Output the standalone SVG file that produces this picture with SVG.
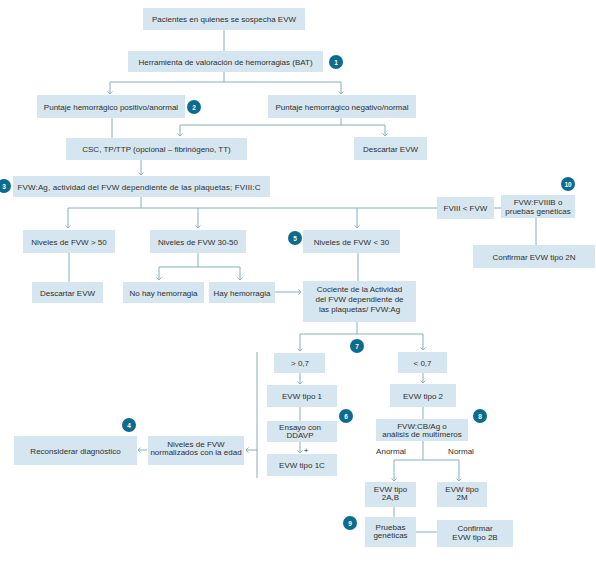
<svg xmlns="http://www.w3.org/2000/svg" width="596" height="562" viewBox="0 0 596 562">
  <style>
    .box rect { fill: #d6e6f0; }
    .box text { font-family: "Liberation Sans", Arial, sans-serif; font-size: 8px; fill: #2e2e2e; text-anchor: middle; }
    .badge circle { fill: #0d6b8c; }
    .badge text { font-family: "Liberation Sans", Arial, sans-serif; font-size: 6.5px; font-weight: bold; fill: #ffffff; text-anchor: middle; }
    .conn path { fill: none; stroke: #86aebd; stroke-width: 1; }
    .conn .arr { marker-end: url(#chev); }
    .lbl { font-family: "Liberation Sans", Arial, sans-serif; font-size: 8px; fill: #2e2e2e; text-anchor: middle; }
  </style>
  <defs>
    <marker id="chev" markerUnits="userSpaceOnUse" markerWidth="8" markerHeight="8" refX="4" refY="4" orient="auto">
      <path d="M1.5,1.5 L4,4 L1.5,6.5" fill="none" stroke="#86aebd" stroke-width="0.9"/>
    </marker>
  </defs>
  <rect width="596" height="562" fill="#ffffff"/>

  <!-- connectors -->
  <g id="connectors" class="conn">
    <path d="M224,30 V51"/>
    <path d="M224,72 V82 M110,82 H341"/>
    <path class="arr" d="M110,82 V94"/>
    <path class="arr" d="M341,82 V94"/>
    <path d="M112,118 V138"/>
    <path d="M341,118 V125 M180,125 H385"/>
    <path class="arr" d="M180,125 V136"/>
    <path class="arr" d="M385,125 V136"/>
    <path class="arr" d="M141,160 V175"/>
    <path d="M141,197 V208 M68,208 H437"/>
    <path class="arr" d="M68,208 V228"/>
    <path class="arr" d="M198,208 V228"/>
    <path class="arr" d="M357,208 V228"/>
    <path d="M494,208 H501"/>
    <path d="M536,218 V245"/>
    <path d="M69,253 V282"/>
    <path d="M198,253 V267 M159,267 H240"/>
    <path class="arr" d="M159,267 V280"/>
    <path class="arr" d="M240,267 V280"/>
    <path class="arr" d="M275,292 H301"/>
    <path d="M358,253 V281"/>
    <path d="M357,322 V334 M300,334 H423"/>
    <path class="arr" d="M300,334 V351"/>
    <path class="arr" d="M423,334 V350"/>
    <path class="arr" d="M300,373 V384"/>
    <path class="arr" d="M423,373 V383"/>
    <path d="M300,407 V421"/>
    <path class="arr" d="M300,442 V453"/>
    <path d="M257,352 V478"/>
    <path class="arr" d="M257,450 H246"/>
    <path class="arr" d="M147,450 H138"/>
    <path d="M423,407 V419"/>
    <path d="M423,441 V460 M394,460 H459"/>
    <path class="arr" d="M394,460 V481"/>
    <path class="arr" d="M459,460 V481"/>
    <path d="M394,507 V517"/>
    <path d="M416,532 H437"/>
  </g>

  <!-- edge labels -->
  <text class="lbl" x="306" y="453">+</text>
  <text class="lbl" x="391" y="454">Anormal</text>
  <text class="lbl" x="461" y="454">Normal</text>

  <!-- nodes -->
  <g id="n-pacientes" class="box"><rect x="143" y="8" width="162" height="22"/><text x="224" y="22">Pacientes en quienes se sospecha EVW</text></g>
  <g id="n-bat" class="box"><rect x="128" y="51" width="195" height="21"/><text x="225.5" y="64.5">Herramienta de valoración de hemorragias (BAT)</text></g>
  <g id="n-positivo" class="box"><rect x="37" y="95" width="148" height="23"/><text x="111" y="109.5">Puntaje hemorrágico positivo/anormal</text></g>
  <g id="n-negativo" class="box"><rect x="268" y="95" width="148" height="23"/><text x="342" y="109.5">Puntaje hemorrágico negativo/normal</text></g>
  <g id="n-csc" class="box"><rect x="66" y="138" width="181" height="22"/><text x="156.5" y="152">CSC, TP/TTP (opcional – fibrinógeno, TT)</text></g>
  <g id="n-descartar1" class="box"><rect x="354" y="137" width="73" height="23"/><text x="390.5" y="151.5">Descartar EVW</text></g>
  <g id="n-fvwag" class="box"><rect x="13" y="176" width="257" height="21"/><text x="139" y="189.5" textLength="243">FVW:Ag, actividad del FVW dependiente de las plaquetas; FVIII:C</text></g>
  <g id="n-fviii" class="box"><rect x="437" y="197" width="57" height="22"/><text x="465.5" y="211">FVIII &lt; FVW</text></g>
  <g id="n-fvwfviiib" class="box"><rect x="501" y="195" width="74" height="23"/><text x="538" y="204.5">FVW:FVIIIB o</text><text x="538" y="213.5">pruebas genéticas</text></g>
  <g id="n-2n" class="box"><rect x="473" y="245" width="122" height="23"/><text x="534" y="259.5">Confirmar EVW tipo 2N</text></g>
  <g id="n-mayor50" class="box"><rect x="23" y="230" width="92" height="23"/><text x="69" y="244.5">Niveles de FVW &gt; 50</text></g>
  <g id="n-30-50" class="box"><rect x="150" y="230" width="96" height="23"/><text x="198" y="244.5">Niveles de FVW 30-50</text></g>
  <g id="n-menor30" class="box"><rect x="303" y="230" width="97" height="23"/><text x="351.5" y="244.5">Niveles de FVW &lt; 30</text></g>
  <g id="n-descartar2" class="box"><rect x="32" y="282" width="71" height="21"/><text x="67.5" y="295.5">Descartar EVW</text></g>
  <g id="n-nohay" class="box"><rect x="123" y="282" width="81" height="21"/><text x="163.5" y="295.5">No hay hemorragia</text></g>
  <g id="n-hay" class="box"><rect x="209" y="282" width="66" height="21"/><text x="242" y="295.5">Hay hemorragia</text></g>
  <g id="n-cociente" class="box"><rect x="303" y="281" width="113" height="41"/><text x="359.5" y="292">Cociente  de la Actividad</text><text x="359.5" y="302">del FVW dependiente de</text><text x="359.5" y="312">las plaquetas/ FVW:Ag</text></g>
  <g id="n-mayor07" class="box"><rect x="274" y="353" width="51" height="20"/><text x="300" y="366">&gt; 0,7</text></g>
  <g id="n-menor07" class="box"><rect x="398" y="352" width="49" height="21"/><text x="422.5" y="365.5">&lt; 0,7</text></g>
  <g id="n-tipo1" class="box"><rect x="267" y="385" width="70" height="22"/><text x="302" y="399">EVW tipo 1</text></g>
  <g id="n-tipo2" class="box"><rect x="390" y="384" width="66" height="23"/><text x="423" y="398.5">EVW tipo 2</text></g>
  <g id="n-ddavp" class="box"><rect x="267" y="421" width="70" height="21"/><text x="300" y="430">Ensayo con</text><text x="300" y="437.5">DDAVP</text></g>
  <g id="n-tipo1c" class="box"><rect x="267" y="454" width="70" height="22"/><text x="302" y="468">EVW tipo 1C</text></g>
  <g id="n-normalizados" class="box"><rect x="148" y="436" width="96" height="29"/><text x="196" y="447">Niveles de FVW</text><text x="196" y="455">normalizados con la edad</text></g>
  <g id="n-reconsiderar" class="box"><rect x="14" y="436" width="123" height="29"/><text x="75.5" y="453.5">Reconsiderar diagnóstico</text></g>
  <g id="n-cbag" class="box"><rect x="376" y="419" width="92" height="22"/><text x="422" y="428.5">FVW:CB/Ag o</text><text x="422" y="436.5">análisis de multímeros</text></g>
  <g id="n-2ab" class="box"><rect x="365" y="482" width="51" height="25"/><text x="390.5" y="492">EVW tipo</text><text x="390.5" y="500">2A,B</text></g>
  <g id="n-2m" class="box"><rect x="437" y="482" width="50" height="25"/><text x="462" y="492">EVW  tipo</text><text x="462" y="500">2M</text></g>
  <g id="n-pruebas" class="box"><rect x="365" y="517" width="51" height="30"/><text x="390.5" y="529.5">Pruebas</text><text x="390.5" y="537.5">genéticas</text></g>
  <g id="n-2b" class="box"><rect x="437" y="520" width="76" height="27"/><text x="475" y="531">Confirmar</text><text x="475" y="539.5">EVW tipo 2B</text></g>

  <!-- numbered badges -->
  <g id="b1" class="badge"><circle cx="336" cy="62" r="7"/><text x="336" y="64.5">1</text></g>
  <g id="b2" class="badge"><circle cx="194" cy="107" r="7"/><text x="194" y="109.5">2</text></g>
  <g id="b3" class="badge"><circle cx="4" cy="186" r="7"/><text x="4" y="188.5">3</text></g>
  <g id="b4" class="badge"><circle cx="129" cy="425" r="7"/><text x="129" y="427.5">4</text></g>
  <g id="b5" class="badge"><circle cx="295" cy="238" r="7"/><text x="295" y="240.5">5</text></g>
  <g id="b6" class="badge"><circle cx="346" cy="416" r="7"/><text x="346" y="418.5">6</text></g>
  <g id="b7" class="badge"><circle cx="357" cy="346" r="7"/><text x="357" y="348.5">7</text></g>
  <g id="b8" class="badge"><circle cx="480" cy="416" r="7"/><text x="480" y="418.5">8</text></g>
  <g id="b9" class="badge"><circle cx="350" cy="523" r="7"/><text x="350" y="525.5">9</text></g>
  <g id="b10" class="badge"><circle cx="568" cy="184" r="7"/><text x="568" y="186.5">10</text></g>
</svg>
